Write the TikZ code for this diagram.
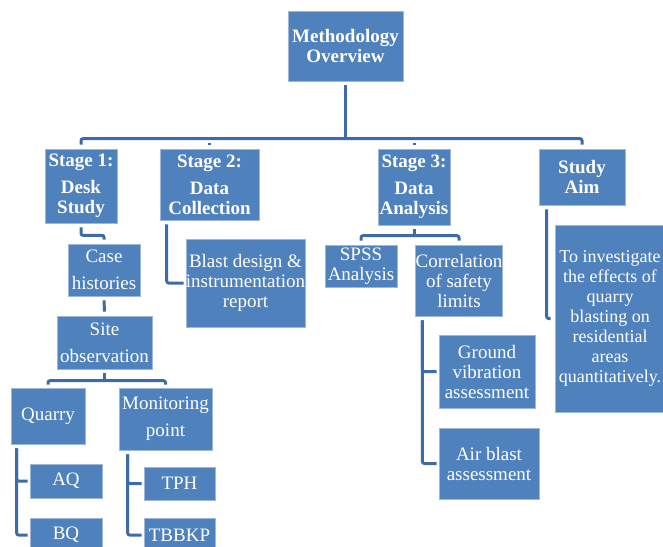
\documentclass[tikz,border=0pt]{standalone}
\usepackage{fontspec}
\setmainfont{Liberation Serif}
\definecolor{boxblue}{HTML}{4F81BD}
\definecolor{boxedge}{HTML}{9DB6DA}
\definecolor{lineblue}{HTML}{3D6BA6}
\begin{document}
\begin{tikzpicture}[x=1pt,y=-1pt,
  bx/.style={draw=boxedge, line width=0.6pt, fill=boxblue, text=white, align=center,
    inner sep=0pt, font=\fontsize{19}{20}\selectfont},
  bb/.style={bx, font=\fontsize{19}{20}\selectfont\bfseries},
  conn/.style={draw=lineblue, line width=3pt, rounded corners=2pt, shorten <=4pt, shorten >=4pt}]
\useasboundingbox (0,0) rectangle (663,546);
% nodes
\node[bb, minimum width=115pt, minimum height=70pt] (mo) at (345.5,46) {Methodology\\Overview};
\node[bb, minimum width=72pt, minimum height=74pt] (s1) at (81,186) {Stage 1:\\[7pt]Desk\\Study};
\node[bb, minimum width=99pt, minimum height=71pt] (s2) at (209.5,184.5) {Stage 2:\\[7pt]Data\\Collection};
\node[bb, minimum width=72pt, minimum height=76pt] (s3) at (414,187) {Stage 3:\\[7pt]Data\\Analysis};
\node[bb, minimum width=86pt, minimum height=56pt] (s4) at (582,177) {Study\\Aim};
\node[bx, minimum width=72pt, minimum height=52pt] (ch) at (104,270) {Case\\[7pt]histories};
\node[bx, minimum width=95pt, minimum height=53pt] (so) at (104.5,342.5) {Site\\[7pt]observation};
\node[bx, minimum width=74pt, minimum height=56pt] (q) at (48,416) {Quarry};
\node[bx, minimum width=93pt, minimum height=62pt] (mp) at (165.5,419) {Monitoring\\[7pt]point};
\node[bx, minimum width=72pt, minimum height=34pt] (aq) at (66,481) {AQ};
\node[bx, minimum width=72pt, minimum height=34pt] (bq) at (66,535) {BQ};
\node[bx, minimum width=71pt, minimum height=33pt] (tph) at (179.5,483.5) {TPH};
\node[bx, minimum width=71pt, minimum height=34pt] (tb) at (179.5,535) {TBBKP};
\node[bx, minimum width=119pt, minimum height=88pt] (bl) at (245.5,283) {Blast design \&\\instrumentation\\report};
\node[bx, minimum width=72pt, minimum height=42pt] (sp) at (361,266) {SPSS\\Analysis};
\node[bx, minimum width=86pt, minimum height=71pt] (co) at (459,280.5) {Correlation\\of safety\\limits};
\node[bx, minimum width=96pt, minimum height=73pt] (gv) at (487,371.5) {Ground\\vibration\\assessment};
\node[bx, minimum width=100pt, minimum height=71pt] (ab) at (489,463.5) {Air blast\\assessment};
\node[bx, minimum width=110pt, minimum height=187pt, font=\fontsize{18}{20}\selectfont] (at) at (610,318.5) {To investigate\\the effects of\\quarry\\blasting on\\residential\\areas\\quantitatively.};
% connectors
\coordinate (bus) at ([yshift=10pt]s1.north);
\draw[conn] (s1.north) -- (bus) -| (s4.north);
\draw[conn, shorten >=0pt] (mo.south) -- (mo.south |- bus);
\draw[conn] (s2.north) -- (s2.north |- bus);
\draw[conn] (s3.north) -- (s3.north |- bus);
\draw[conn] (s1.south) -- ++(0,12) -| (ch.north);
\draw[conn] (ch.south) -- (so.north);
\coordinate (bus2) at ([yshift=7pt]q.north);
\draw[conn, shorten <=3pt, shorten >=3pt] (q.north) -- (bus2) -| (mp.north);
\draw[conn, shorten >=0pt] (so.south) -- (so.south |- bus2);
\draw[conn, shorten >=2pt] ([xshift=6pt]q.south west) |- (aq.west);
\draw[conn, shorten >=2pt] ([xshift=6pt]q.south west) |- (bq.west);
\draw[conn, shorten >=2pt] ([xshift=9pt]mp.south west) |- (tph.west);
\draw[conn, shorten >=2pt] ([xshift=9pt]mp.south west) |- (tb.west);
\draw[conn, shorten >=2pt] ([xshift=7pt]s2.south west) |- (bl.west);
\coordinate (bus3) at ([yshift=9pt]sp.north);
\draw[conn] (sp.north) -- (bus3) -| (co.north);
\draw[conn, shorten >=0pt] (s3.south) -- (s3.south |- bus3);
\draw[conn, shorten >=2pt] ([xshift=7pt]co.south west) |- (gv.west);
\draw[conn, shorten >=2pt] ([xshift=7pt]co.south west) |- (ab.west);
\draw[conn] ([xshift=8pt]s4.south west) |- (at.west);
\end{tikzpicture}
\end{document}
